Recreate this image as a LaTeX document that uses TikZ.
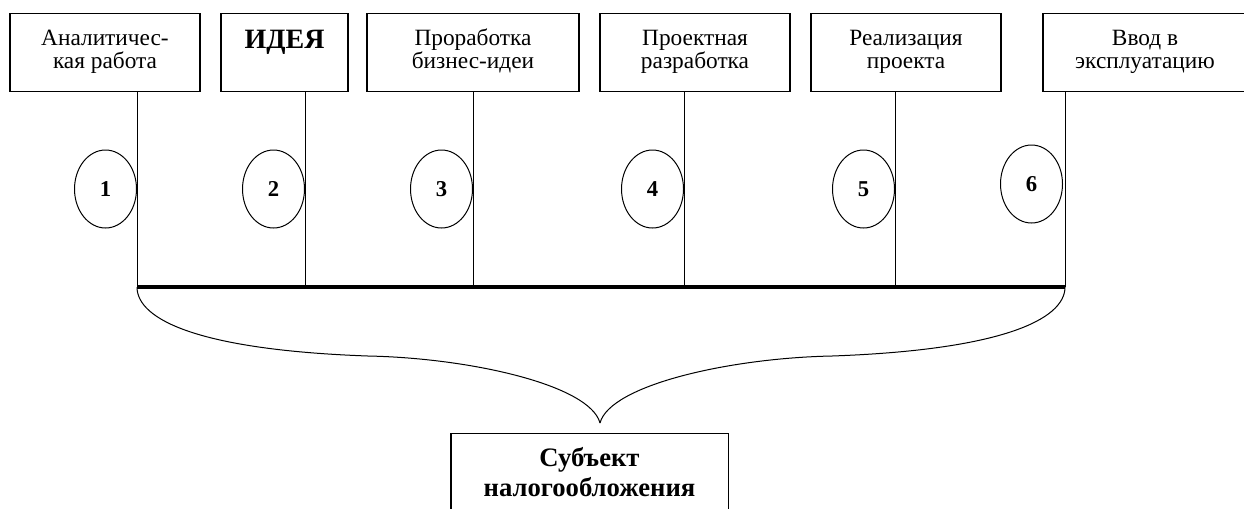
\documentclass[tikz,border=0pt]{standalone}
\usepackage{fontspec}
\setmainfont{Liberation Serif}
\usetikzlibrary{shapes.geometric}

\tikzset{every picture/.style={line width=0.75pt}}
\tikzset{
  stage/.style={draw, rectangle, line width=1pt, anchor=north, align=center,
    inner sep=3pt, text height=38.25pt, text depth=14.25pt,
    font=\fontsize{17.5}{17.25}\selectfont},
  stagenum/.style={draw, ellipse, anchor=east, inner sep=0pt,
    minimum width=46.5pt, minimum height=58.5pt,
    font=\fontsize{17}{18}\selectfont\bfseries},
  subject/.style={draw, rectangle, line width=1pt, anchor=north, align=center,
    minimum width=208pt, minimum height=57pt,
    font=\fontsize{20}{22.5}\selectfont\bfseries}
}

\begin{document}
\begin{tikzpicture}[x=0.75pt,y=0.75pt,yscale=-1,xscale=1]
\useasboundingbox (0,0) rectangle (1244,508);

% stages
\draw (105,13) node [stage, minimum width=142.5pt] (s1) {Аналитичес-\\кая работа};
\draw (284.5,13) node [stage, minimum width=95.25pt, text height=23pt, text depth=29.5pt] (s2) {{\fontsize{21}{22}\selectfont\bfseries ИДЕЯ}};
\draw (473,13) node [stage, minimum width=159pt] (s3) {Проработка\\бизнес-идеи};
\draw (695,13) node [stage, minimum width=142.5pt] (s4) {Проектная\\разработка};
\draw (906,13) node [stage, minimum width=142.5pt] (s5) {Реализация\\проекта};
\draw (1145,13) node [stage, minimum width=153pt] (s6) {Ввод в\\эксплуатацию};

% points on the common line
\coordinate (v1) at (137,287);
\coordinate (v2) at (305,287);
\coordinate (v3) at (473,287);
\coordinate (v4) at (684,287);
\coordinate (v5) at (895,287);
\coordinate (v6) at (1065,287);

\draw (s1.south -| v1) -- (v1);
\draw (s2.south -| v2) -- (v2);
\draw (s3.south -| v3) -- (v3);
\draw (s4.south -| v4) -- (v4);
\draw (s5.south -| v5) -- (v5);
\draw (s6.south -| v6) -- (v6);

\draw [line width=3pt] (v1) -- (v6);

% numbers
\draw (137,189) node [stagenum] (n1) {1};
\draw (305,189) node [stagenum] (n2) {2};
\draw (473,189) node [stagenum] (n3) {3};
\draw (684,189) node [stagenum] (n4) {4};
\draw (895,189) node [stagenum] (n5) {5};
\draw (1063,184) node [stagenum] (n6) {6};

% brace
\coordinate (tip) at (600,423);
\draw (v1) .. controls (137,320) and (200,350) .. (368,356) .. controls (470,358) and (590,385) .. (tip);
\draw (v6) .. controls (1065,320) and (1000,350) .. (832,356) .. controls (730,358) and (610,385) .. (tip);

\draw (589.5,433) node [subject] (subj) {Субъект\\налогообложения};
\end{tikzpicture}
\end{document}
